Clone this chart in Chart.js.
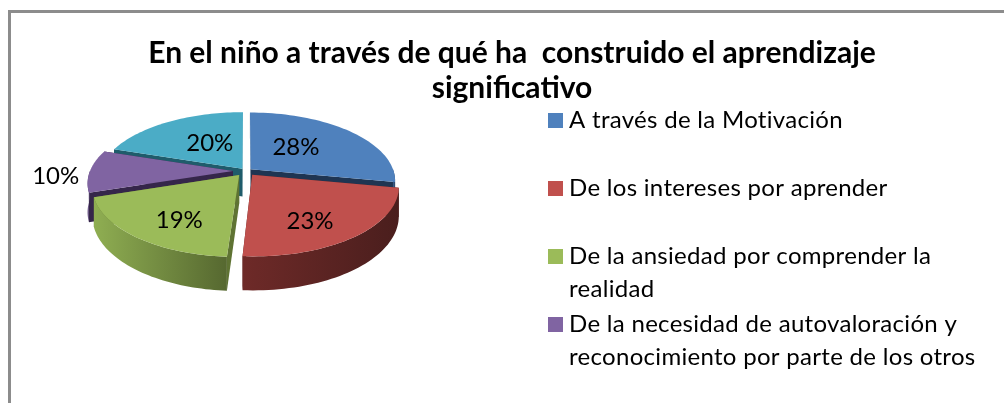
<!DOCTYPE html>
<html><head><meta charset="utf-8">
<style>
html,body{margin:0;padding:0;background:#fff;width:1004px;height:403px;overflow:hidden}
#frame{position:absolute;left:8px;top:10px;width:1000px;height:400px;border:solid #8c8c8c;border-width:3px 0 0 3px;box-sizing:border-box}
canvas{position:absolute;left:20px;top:0}
</style>
<script src="https://cdn.jsdelivr.net/npm/chart.js@4"></script>
</head><body>
<div id="frame"></div>
<canvas id="c" width="984" height="403"></canvas>
<script>
const titleLines = ['En el niño a través de qué ha  construido el aprendizaje','significativo'];
const categories = ['A través de la Motivación','De los intereses por aprender','De la ansiedad por comprender la realidad','De la necesidad de autovaloración y reconocimiento por parte de los otros','Otros'];
const legendLines = [['A través de la Motivación'],['De los intereses por aprender'],['De la ansiedad por comprender la','realidad'],['De la necesidad de autovaloración y','reconocimiento por parte de los otros']];
const values = [28,23,19,10,20];
const colors = ['#4f81bd','#c0504d','#9bbb59','#8064a2','#4bacc6'];
const radialColors = ['#1f3552','#5a2422','#5f7333','#35264a','#1f5c6b'];
const wallLight = ['#3b608d','#6e2a28','#8fae52','#5d4878','#37859a'];
const wallDark = ['#2b4668','#4a1e1d','#566830','#3d2f50','#27606f'];
const explode = [6,10,11,13,6];

// label placement on the disc, fraction of radius along each axis
const labelReachX = [0.44,0.58,0.60,1.24,0.42];
const labelReachY = [0.55,0.77,0.76,1,0.50];
const labelNudgeY = [0,0,0,5,0];
const K = 1/6, RX = 143, HY = 66.7, DEPTH = 28, SHIFT_X = -266, CENTER_Y = 171;

const pie3d = {
  id:'pie3d',
  beforeDatasetsDraw(chart){
    const ctx = chart.ctx, arcs = chart.getDatasetMeta(0).data;
    const R = arcs[0].outerRadius;
    const proj = (el,ang,rx,ry,ox,oy,d) => {
      const u = (rx*Math.cos(ang)+ox)/R, v = (ry*Math.sin(ang)+oy)/R;
      const f = 1/(1-K*v);
      return [el.x+SHIFT_X+u*f*RX, CENTER_Y+v*f*HY+(d||0)*f];
    };
    const info = arcs.map((el,i)=>{
      const mid=(el.startAngle+el.endAngle)/2, e=explode[i]*R/RX;
      return {el,i,mid,ox:e*Math.cos(mid),oy:e*Math.sin(mid)};
    });
    const path=(s,from,to,d)=>{
      const n=48;
      for(let k=0;k<=n;k++){
        const a=from+(to-from)*k/n, p=proj(s.el,a,R,R,s.ox,s.oy,d);
        ctx.lineTo(p[0],p[1]);
      }
    };
    [0,4,3,2,1].forEach(i=>{
      const s=info[i], el=s.el, a0=el.startAngle, a1=el.endAngle;
      const c=proj(el,0,0,0,s.ox,s.oy,0), cd=proj(el,0,0,0,s.ox,s.oy,DEPTH);
      [a0,a1].forEach(a=>{
        const p=proj(el,a,R,R,s.ox,s.oy,0), pd=proj(el,a,R,R,s.ox,s.oy,DEPTH);
        ctx.beginPath();ctx.moveTo(c[0],c[1]);ctx.lineTo(p[0],p[1]);ctx.lineTo(pd[0],pd[1]);ctx.lineTo(cd[0],cd[1]);ctx.closePath();
        ctx.fillStyle=radialColors[i];ctx.fill();
      });
      const lo=Math.max(a0,0), hi=Math.min(a1,Math.PI);
      if(hi>lo){
        const pl=proj(el,hi,R,R,s.ox,s.oy,0), pr=proj(el,lo,R,R,s.ox,s.oy,0);
        const g=ctx.createLinearGradient(Math.min(pl[0],pr[0]),0,Math.max(pl[0],pr[0]),0);
        g.addColorStop(0,wallLight[i]);g.addColorStop(1,wallDark[i]);
        ctx.beginPath();
        ctx.moveTo(pr[0],pr[1]);
        path(s,lo,hi,0);path(s,hi,lo,DEPTH);ctx.closePath();
        ctx.fillStyle=g;ctx.fill();
      }
      ctx.beginPath();ctx.moveTo(c[0],c[1]);path(s,a0,a1,0);ctx.closePath();
      ctx.fillStyle=colors[i];ctx.fill();
    });
    ctx.font='24px Lato';ctx.fillStyle='#000';ctx.textAlign='center';ctx.textBaseline='middle';
    info.forEach(s=>{
      const p=proj(s.el,s.mid,R*labelReachX[s.i],R*labelReachY[s.i],s.ox,s.oy,0);
      ctx.fillText(values[s.i]+'%',p[0],p[1]+labelNudgeY[s.i]);
    });
    return false;
  },
  afterDraw(chart){
    const ctx=chart.ctx;
    ctx.save();ctx.font='24px Lato';ctx.textAlign='left';ctx.textBaseline='middle';
    if('letterSpacing' in ctx) ctx.letterSpacing='0.3px';
    legendLines.forEach((lines,i)=>{
      const y=120+68*i;
      ctx.fillStyle=colors[i];ctx.fillRect(548-20,y-7,15,15);
      ctx.fillStyle='#000';
      lines.forEach((t,j)=>ctx.fillText(t,569-20,y+33*j));
    });
    ctx.restore();
  }
};
new Chart(document.getElementById('c'),{
  type:'pie',
  data:{labels:categories,datasets:[{data:values,backgroundColor:colors,borderWidth:0}]},
  options:{
    responsive:false,animation:false,
    plugins:{
      legend:{display:false},tooltip:{enabled:false},
      title:{display:true,text:titleLines,color:'#000',font:{family:'Lato',size:30,weight:'bold',lineHeight:1.17},padding:{top:36,bottom:0}}
    }
  },
  plugins:[pie3d]
});
</script>
</body></html>
